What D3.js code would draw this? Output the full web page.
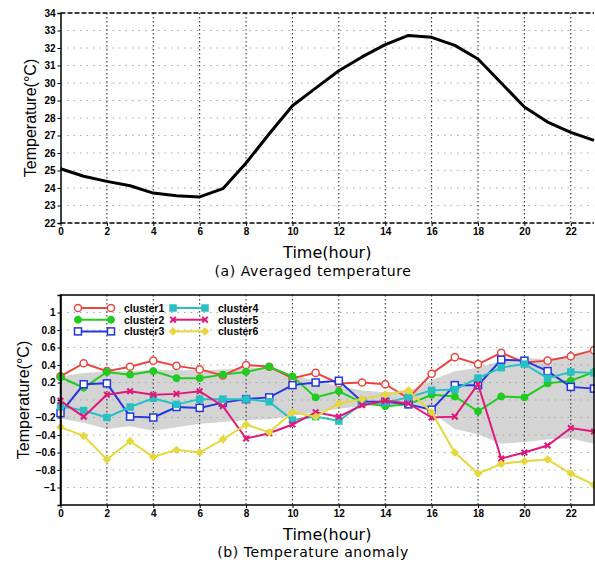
<!DOCTYPE html>
<html lang="en">
<head>
<meta charset="UTF-8">
<title>Temperature</title>
<script src="https://cdn.jsdelivr.net/npm/d3@7"></script>
<style>
    body { margin: 0; background: #fff; }
    .tick text { font-family: "Liberation Sans", Arial, sans-serif; font-weight: bold; font-size: 10px; fill: #000; }
    .ylab { font-family: "Liberation Sans", Arial, sans-serif; font-size: 16px; }
    .xlab { font-family: "DejaVu Sans", sans-serif; font-size: 16px; }
    .cap { font-family: "DejaVu Sans", sans-serif; font-size: 14px; letter-spacing: 0.6px; }
    .leg { font-family: "Liberation Sans", Arial, sans-serif; font-weight: bold; font-size: 10.5px; }
</style>
</head>
<body>
<div id="chart"></div>
<script>
    // hours 0..23
    const hours = [0, 1, 2, 3, 4, 5, 6, 7, 8, 9, 10, 11, 12, 13, 14, 15, 16, 17, 18, 19, 20, 21, 22, 23];
    const xTicks = [0, 2, 4, 6, 8, 10, 12, 14, 16, 18, 20, 22];

    // (a) averaged temperature
    const avgTemp = [25.1, 24.67, 24.38, 24.13, 23.71, 23.56, 23.49, 23.96, 25.43, 27.1, 28.7, 29.71,
        30.7, 31.49, 32.19, 32.72, 32.61, 32.15, 31.37, 30.0, 28.63, 27.77, 27.18, 26.72];
    const tempTicks = [22, 23, 24, 25, 26, 27, 28, 29, 30, 31, 32, 33, 34];

    // (b) anomaly by cluster
    const cluster1 = [0.27, 0.42, 0.33, 0.38, 0.45, 0.39, 0.35, 0.28, 0.40, 0.38, 0.25, 0.31,
        0.19, 0.20, 0.18, 0.02, 0.30, 0.49, 0.41, 0.54, 0.43, 0.45, 0.50, 0.57];
    const cluster2 = [0.26, 0.14, 0.32, 0.29, 0.33, 0.25, 0.25, 0.29, 0.32, 0.38, 0.27, 0.03,
        0.10, -0.03, -0.07, -0.05, 0.06, 0.04, -0.13, 0.04, 0.03, 0.19, 0.22, 0.32];
    const cluster3 = [-0.15, 0.18, 0.19, -0.19, -0.20, -0.08, -0.09, -0.03, 0.01, 0.03, 0.17, 0.20,
        0.22, -0.02, -0.02, -0.05, -0.11, 0.17, 0.17, 0.46, 0.45, 0.33, 0.15, 0.13];
    const cluster4 = [-0.07, -0.12, -0.20, -0.08, 0.02, -0.05, 0.01, 0.01, 0.01, -0.02, -0.23, -0.19,
        -0.24, -0.04, -0.03, 0.03, 0.11, 0.12, 0.25, 0.37, 0.41, 0.25, 0.32, 0.31];
    const cluster5 = [-0.01, -0.19, 0.06, 0.10, 0.06, 0.07, 0.10, -0.07, -0.44, -0.38, -0.28, -0.14,
        -0.19, -0.06, -0.01, -0.04, -0.20, -0.19, 0.18, -0.67, -0.60, -0.52, -0.32, -0.36];
    const cluster6 = [-0.31, -0.41, -0.68, -0.47, -0.65, -0.57, -0.60, -0.45, -0.28, -0.37, -0.14, -0.19,
        -0.04, 0.01, 0.06, 0.11, -0.14, -0.60, -0.84, -0.73, -0.70, -0.68, -0.84, -0.97];
    const bandUpper = [0.27, 0.31, 0.33, 0.33, 0.35, 0.34, 0.34, 0.35, 0.37, 0.37, 0.29, 0.22,
        0.16, 0.11, 0.09, 0.10, 0.23, 0.33, 0.37, 0.45, 0.48, 0.47, 0.51, 0.55];
    const bandLower = [-0.21, -0.26, -0.33, -0.30, -0.35, -0.31, -0.27, -0.25, -0.23, -0.22, -0.18, -0.14,
        -0.10, -0.07, -0.06, -0.06, -0.14, -0.33, -0.39, -0.50, -0.48, -0.45, -0.44, -0.50];
    const anomTicks = [-1, -0.8, -0.6, -0.4, -0.2, 0, 0.2, 0.4, 0.6, 0.8, 1];

    const clusterNames = ['cluster1', 'cluster2', 'cluster3', 'cluster4', 'cluster5', 'cluster6'];
    const clusterColors = ['#ec4540', '#1fcc1f', '#2436e0', '#27c0c3', '#e0187a', '#e6d83a'];
    const clusterMarks = ['circle', 'dot', 'square', 'box', 'cross', 'diamond'];
    const clusterData = [cluster1, cluster2, cluster3, cluster4, cluster5, cluster6];

    const W = 595, H = 565;
    const svg = d3.select('#chart').append('svg')
        .attr('width', W)
        .attr('height', H);

    const x = d3.scaleLinear().domain([0, 23]).range([60.5, 594]);

    function drawGrid(g, y, yTicks, top, bottom) {
        g.selectAll('.hgrid')
            .data(yTicks)
            .enter()
            .append('line')
            .attr('x1', x(0)).attr('x2', x(23))
            .attr('y1', d => y(d)).attr('y2', d => y(d))
            .attr('stroke', '#a8a8a8')
            .attr('stroke-width', 1)
            .attr('stroke-dasharray', '1.5,5');
        g.selectAll('.vgrid')
            .data(xTicks.slice(1))
            .enter()
            .append('line')
            .attr('x1', d => x(d)).attr('x2', d => x(d))
            .attr('y1', top).attr('y2', bottom)
            .attr('stroke', '#222')
            .attr('stroke-width', 1)
            .attr('stroke-dasharray', '1.5,2.5');
    }

    function drawAxes(g, y, yTicks, fmt) {
        const bottom = y.range()[0];
        g.append('g')
            .attr('transform', `translate(0,${bottom})`)
            .call(d3.axisBottom(x).tickValues(xTicks).tickSize(3).tickPadding(2))
            .call(a => a.select('.domain').remove());
        g.append('g')
            .attr('transform', `translate(${x(0)},0)`)
            .call(d3.axisLeft(y).tickValues(yTicks).tickSize(3).tickPadding(2).tickFormat(fmt))
            .call(a => a.select('.domain').attr('stroke-width', 1.5));
    }

    // ---------- (a) ----------
    const yA = d3.scaleLinear().domain([22, 34]).range([223, 13]);
    const gA = svg.append('g');
    drawGrid(gA, yA, tempTicks.slice(1, -1), 13, 223);
    [22, 34].forEach(v => {
        gA.append('line')
            .attr('x1', x(0)).attr('x2', x(23))
            .attr('y1', yA(v)).attr('y2', yA(v))
            .attr('stroke', '#000')
            .attr('stroke-width', 1.5)
            .attr('stroke-dasharray', '5,2');
    });
    drawAxes(gA, yA, tempTicks, d3.format('d'));

    gA.append('path')
        .datum(avgTemp)
        .attr('fill', 'none')
        .attr('stroke', '#000')
        .attr('stroke-width', 3)
        .attr('stroke-linejoin', 'round')
        .attr('d', d3.line().x((d, i) => x(hours[i])).y(d => yA(d)));

    gA.append('text').attr('class', 'ylab')
        .attr('transform', `translate(36,${yA(28)}) rotate(-90)`)
        .attr('text-anchor', 'middle')
        .text('Temperature(°C)');
    gA.append('text').attr('class', 'xlab')
        .attr('x', (x(0) + x(23)) / 2).attr('y', 258)
        .attr('text-anchor', 'middle')
        .text('Time(hour)');
    gA.append('text').attr('class', 'cap')
        .attr('x', 313).attr('y', 276)
        .attr('text-anchor', 'middle')
        .text('(a) Averaged temperature');

    // ---------- (b) ----------
    const yB = d3.scaleLinear().domain([-1.2, 1.2]).range([505, 295]);
    const gB = svg.append('g');

    gB.append('path')
        .datum(hours)
        .attr('fill', '#d4d4d4')
        .attr('d', d3.area()
            .x(d => x(d))
            .y0(d => yB(bandLower[d]))
            .y1(d => yB(bandUpper[d])));

    drawGrid(gB, yB, anomTicks, 295, 505);

    function marker(sel, type, color) {
        if (type === 'circle' || type === 'dot') {
            sel.append('circle').attr('r', type === 'dot' ? 3.2 : 3.6)
                .attr('fill', type === 'dot' ? color : '#fff')
                .attr('stroke', color).attr('stroke-width', 1.5);
        } else if (type === 'square' || type === 'box') {
            const s = type === 'box' ? 3 : 3.5;
            sel.append('rect').attr('x', -s).attr('y', -s).attr('width', 2 * s).attr('height', 2 * s)
                .attr('fill', type === 'box' ? color : '#fff')
                .attr('stroke', color).attr('stroke-width', 1.5);
        } else if (type === 'cross') {
            sel.append('path').attr('d', 'M-2.8,-2.8L2.8,2.8M-2.8,2.8L2.8,-2.8')
                .attr('stroke', color).attr('stroke-width', 2);
        } else {
            sel.append('path').attr('d', 'M0,-3.8L3.8,0L0,3.8L-3.8,0Z')
                .attr('fill', color).attr('stroke', color).attr('stroke-width', 1);
        }
    }

    clusterData.forEach((vals, k) => {
        const color = clusterColors[k];
        gB.append('path')
            .datum(vals)
            .attr('fill', 'none')
            .attr('stroke', color)
            .attr('stroke-width', 2)
            .attr('d', d3.line().x((d, i) => x(hours[i])).y(d => yB(d)));
        gB.selectAll('.m' + k)
            .data(vals)
            .enter()
            .append('g')
            .attr('transform', (d, i) => `translate(${x(hours[i])},${yB(d)})`)
            .each(function () { marker(d3.select(this), clusterMarks[k], color); });
    });

    // frame
    gB.append('rect')
        .attr('x', x(0)).attr('y', 295)
        .attr('width', x(23) - x(0)).attr('height', 210)
        .attr('fill', 'none').attr('stroke', '#000').attr('stroke-width', 1.5);

    drawAxes(gB, yB, anomTicks, d => d3.format('')(d));

    // legend
    clusterNames.forEach((name, k) => {
        const col = Math.floor(k / 3), row = k % 3;
        const x0 = col ? 173 : 78, x1 = col ? 205 : 111;
        const yy = 308 + row * 11.7;
        const lg = gB.append('g');
        lg.append('line')
            .attr('x1', x0).attr('x2', x1).attr('y1', yy).attr('y2', yy)
            .attr('stroke', clusterColors[k]).attr('stroke-width', 2);
        [x0, x1].forEach(px => {
            const m = lg.append('g').attr('transform', `translate(${px},${yy})`);
            marker(m, clusterMarks[k], clusterColors[k]);
        });
        lg.append('text').attr('class', 'leg')
            .attr('x', col ? 218 : 124).attr('y', yy + 3.8)
            .text(name);
    });

    gB.append('text').attr('class', 'ylab')
        .attr('transform', `translate(29,${yB(0)}) rotate(-90)`)
        .attr('text-anchor', 'middle')
        .text('Temperature(°C)');
    gB.append('text').attr('class', 'xlab')
        .attr('x', (x(0) + x(23)) / 2).attr('y', 540)
        .attr('text-anchor', 'middle')
        .text('Time(hour)');
    gB.append('text').attr('class', 'cap')
        .attr('x', 313).attr('y', 557)
        .attr('text-anchor', 'middle')
        .text('(b) Temperature anomaly');
</script>
</body>
</html>
